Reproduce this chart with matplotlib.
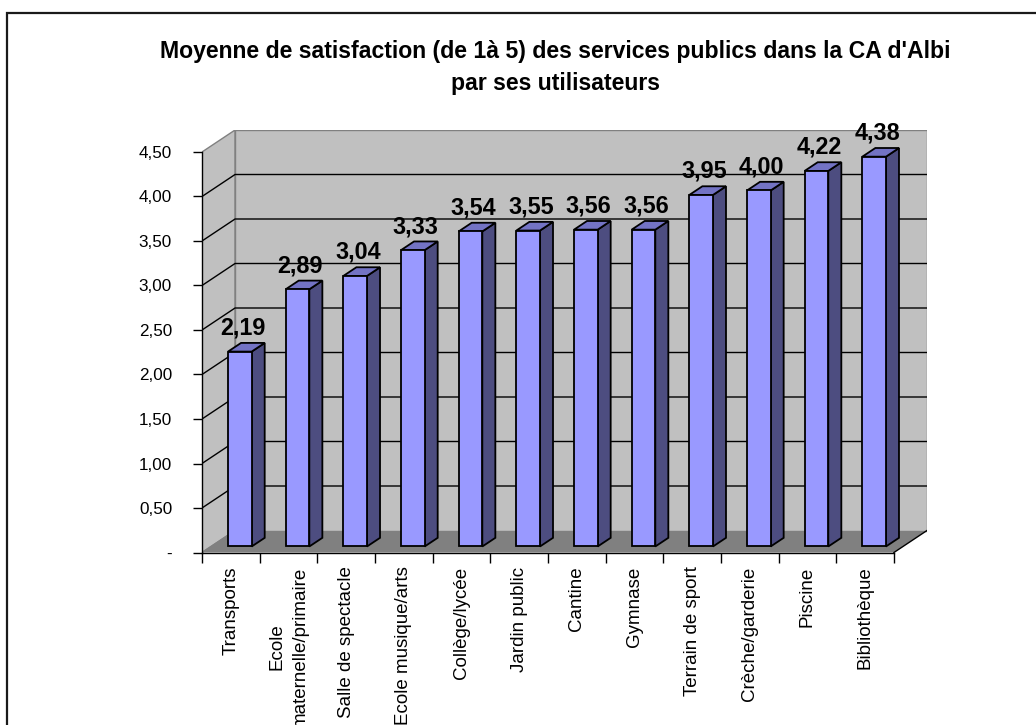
import matplotlib
matplotlib.use("Agg")
import matplotlib.pyplot as plt
from matplotlib.patches import Polygon, Rectangle
from matplotlib.ticker import FixedLocator, FixedFormatter

plt.rcParams['font.family'] = ['Liberation Sans', 'DejaVu Sans']

# ---- data ----
categories = ["Transports", "Ecole\nmaternelle/primaire", "Salle de spectacle",
              "Ecole musique/arts", "Collège/lycée", "Jardin public", "Cantine",
              "Gymnase", "Terrain de sport", "Crèche/garderie", "Piscine", "Bibliothèque"]
values = [2.19, 2.89, 3.04, 3.33, 3.54, 3.55, 3.56, 3.56, 3.95, 4.00, 4.22, 4.38]
value_labels = ["2,19", "2,89", "3,04", "3,33", "3,54", "3,55", "3,56", "3,56",
                "3,95", "4,00", "4,22", "4,38"]
yticks = [0, 0.5, 1.0, 1.5, 2.0, 2.5, 3.0, 3.5, 4.0, 4.5]
ytick_labels = ["-", "0,50", "1,00", "1,50", "2,00", "2,50", "3,00", "3,50", "4,00", "4,50"]
title = "Moyenne de satisfaction (de 1à 5) des services publics dans la CA d'Albi\npar ses utilisateurs"

# ---- style / geometry ----
W, H = 1036, 725
n = len(categories)
ymax = 4.5
DX = 33 / 57.58          # depth offset in category units
DY = 22 / 89.0           # depth offset in value units
f0, f1 = 0.273, 0.667    # bar front/back depth fraction
bw = 0.41                # bar width (category units)
front_c = "#9999ff"
side_c = "#4d4d80"
top_c = "#7373c4"
wall_c = "#c0c0c0"
floor_c = "#808080"

fig = plt.figure(figsize=(W / 100, H / 100), dpi=100)
fig.patch.set_facecolor("white")

# chart frame
fig.patches.append(Rectangle((7 / W, -0.2), 1.2, (H - 13) / H + 0.2, transform=fig.transFigure,
                             fill=False, edgecolor="#1a1a1a", linewidth=1.6))

ax_l, ax_r = 202, 927
ax_b, ax_t = 552.5, 130
ax = fig.add_axes([ax_l / W, (H - ax_b) / H, (ax_r - ax_l) / W, (ax_b - ax_t) / H])
ax.set_xlim(0, n + DX)
ax.set_ylim(0, ymax + DY)
ax.set_facecolor("none")

# walls and floor
ax.add_patch(Polygon([(0, 0), (n, 0), (n + DX, DY), (DX, DY)], closed=True,
                     facecolor=floor_c, edgecolor="none", zorder=0))
ax.add_patch(Polygon([(0, 0), (DX, DY), (DX, ymax + DY), (0, ymax)], closed=True,
                     facecolor=wall_c, edgecolor="#808080", linewidth=1, zorder=0))
ax.add_patch(Rectangle((DX, DY), n, ymax, facecolor=wall_c, edgecolor="#808080",
                       linewidth=1, zorder=0))
for v in yticks[1:-1]:
    ax.plot([0, DX, n + DX], [v, v + DY, v + DY], color="black", lw=1, zorder=1)
ax.plot([n, n + DX], [0, DY], color="black", lw=1, zorder=1)
ax.plot([0, DX], [0, DY], color="#808080", lw=1, zorder=1)

# bars
for i, v in enumerate(values):
    x0 = i + 0.5 - bw / 2 + f0 * DX
    y0 = f0 * DY
    x1 = x0 + bw
    ddx = (f1 - f0) * DX
    ddy = (f1 - f0) * DY
    ax.add_patch(Polygon([(x1, y0), (x1 + ddx, y0 + ddy), (x1 + ddx, y0 + v + ddy), (x1, y0 + v)],
                         closed=True, facecolor=side_c, edgecolor="black", lw=1.3, zorder=3))
    ax.add_patch(Polygon([(x0, y0 + v), (x1, y0 + v), (x1 + ddx, y0 + v + ddy), (x0 + ddx, y0 + v + ddy)],
                         closed=True, facecolor=top_c, edgecolor="black", lw=1.3, zorder=3))
    ax.add_patch(Rectangle((x0, y0), bw, v, facecolor=front_c, edgecolor="black", lw=1.3, zorder=4))
    ax.annotate(value_labels[i], xy=(x0 + bw / 2 + 0.05, y0 + v + ddy), xytext=(0, 6),
                textcoords="offset points", ha="center", va="baseline",
                fontsize=16.8, fontweight="bold", zorder=5, annotation_clip=False)

# axes
for s in ["top", "right"]:
    ax.spines[s].set_visible(False)
ax.spines["left"].set_bounds(0, ymax)
ax.spines["bottom"].set_bounds(0, n)
for s in ["left", "bottom"]:
    ax.spines[s].set_color("black")
    ax.spines[s].set_linewidth(1)
    ax.spines[s].set_zorder(6)

ax.yaxis.set_major_locator(FixedLocator(yticks))
ax.yaxis.set_major_formatter(FixedFormatter(ytick_labels))
ax.tick_params(axis="y", direction="out", length=6.5, width=1, pad=15, labelsize=12.3, colors="black")

ax.xaxis.set_major_locator(FixedLocator(list(range(n + 1))))
ax.xaxis.set_major_formatter(FixedFormatter([""] * (n + 1)))
ax.xaxis.set_minor_locator(FixedLocator([i + 0.5 for i in range(n)]))
ax.xaxis.set_minor_formatter(FixedFormatter(categories))
ax.tick_params(axis="x", which="major", direction="out", length=7.2, width=1, colors="black")
ax.tick_params(axis="x", which="minor", length=0, pad=10, labelsize=13.5)
for lab in ax.xaxis.get_minorticklabels():
    lab.set_rotation(90)
    lab.set_va("top")
    lab.set_ha("center")
    lab.set_multialignment("center")
    lab.set_linespacing(1.5)

fig.text(555.5 / W, 1 - 40 / H, title, ha="center", va="top", fontsize=16.6,
         fontweight="bold", linespacing=1.5)

fig.savefig("out.png", dpi=100)
